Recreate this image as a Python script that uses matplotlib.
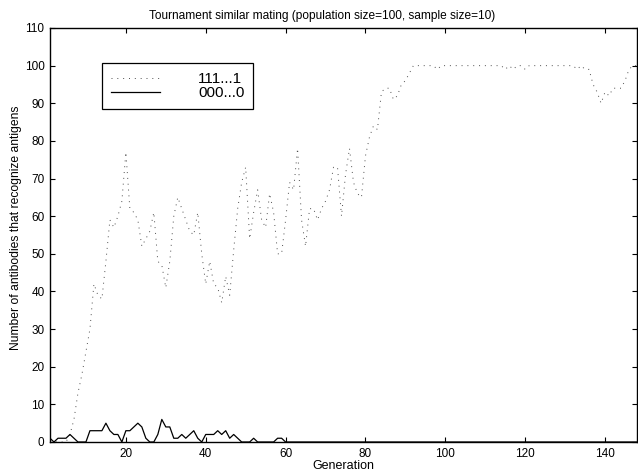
import numpy as np
import matplotlib
matplotlib.use('Agg')
import matplotlib.pyplot as plt

plt.rcParams['font.family'] = ['Liberation Sans', 'DejaVu Sans']

# ---- data ----
generations = np.arange(1, 149)

ones_head = [0, 0, 0, 0, 0, 2, 6, 13, 18, 24,
             30, 42, 39, 38, 48, 59, 57, 60, 64, 77,
             62, 61, 59, 52, 54, 56, 61, 48, 47, 41,
             48, 60, 65, 62, 59, 56, 55, 61, 50, 42,
             48, 42, 41, 37, 44, 39, 51, 62, 69, 73,
             54, 61, 67, 59, 57, 66, 61, 50, 50, 59,
             69, 67, 78, 59, 52, 62, 62, 59, 62, 64,
             67, 73, 73, 60, 71, 78, 69, 66, 65, 76,
             81, 84, 83, 93, 94, 94, 91, 92, 95, 96,
             98]
ones_tail = {98: 99, 115: 99, 117: 99, 120: 99, 133: 99, 135: 99, 136: 99,
             137: 95, 138: 93, 139: 90, 140: 93, 141: 92, 142: 94, 143: 94,
             144: 94, 145: 96, 146: 99}
ones_all = ones_head + [ones_tail.get(g, 100) for g in range(92, 149)]

zeros_head = [1, 0, 1, 1, 1, 2, 1, 0, 0, 0,
              3, 3, 3, 3, 5, 3, 2, 2, 0, 3,
              3, 4, 5, 4, 1, 0, 0, 2, 6, 4,
              4, 1, 1, 2, 1, 2, 3, 1, 0, 2,
              2, 2, 3, 2, 3, 1, 2, 1, 0, 0,
              0, 1, 0, 0, 0, 0, 0, 1, 1, 0]
zeros_all = zeros_head + [0] * (148 - len(zeros_head))

x_ticks = [20, 40, 60, 80, 100, 120, 140]
y_ticks = list(range(0, 111, 10))

fig = plt.figure(figsize=(6.38, 4.71), dpi=100)
ax = fig.add_axes([50 / 638, 29 / 471, 587 / 638, 414 / 471])

ax.plot(generations, ones_all, color='0.3', linestyle=(0, (1, 5)),
        linewidth=0.7, label='111...1')
ax.plot(generations, zeros_all, color='black', linestyle='-',
        linewidth=0.9, label='000...0')

ax.set_xlim(1, 148)
ax.set_ylim(0, 110)
ax.set_xticks(x_ticks)
ax.set_yticks(y_ticks)
ax.tick_params(direction='in', top=True, right=True, length=3.5,
               width=0.8, labelsize=8.5, pad=4)
for s in ax.spines.values():
    s.set_linewidth(1.0)

# title sits slightly left of the axes centre in the reference
fig.text(322 / 638, 1 - 19 / 471,
         'Tournament similar mating (population size=100, sample size=10)',
         fontsize=8.6, ha='center', va='baseline')
ax.set_xlabel('Generation', fontsize=9, labelpad=0)
ax.set_ylabel('Number of antibodies that recognize antigens', fontsize=8.7)
ax.yaxis.set_label_coords(-0.048, 0.517)

leg = ax.legend(loc='upper left', bbox_to_anchor=(0.088, 0.916),
                fontsize=11, handlelength=3.2, handletextpad=2.5,
                borderpad=0.6, labelspacing=0.0, fancybox=False,
                framealpha=1, edgecolor='black', borderaxespad=0)
leg.get_frame().set_linewidth(0.9)

fig.savefig('out.png', dpi=100)
